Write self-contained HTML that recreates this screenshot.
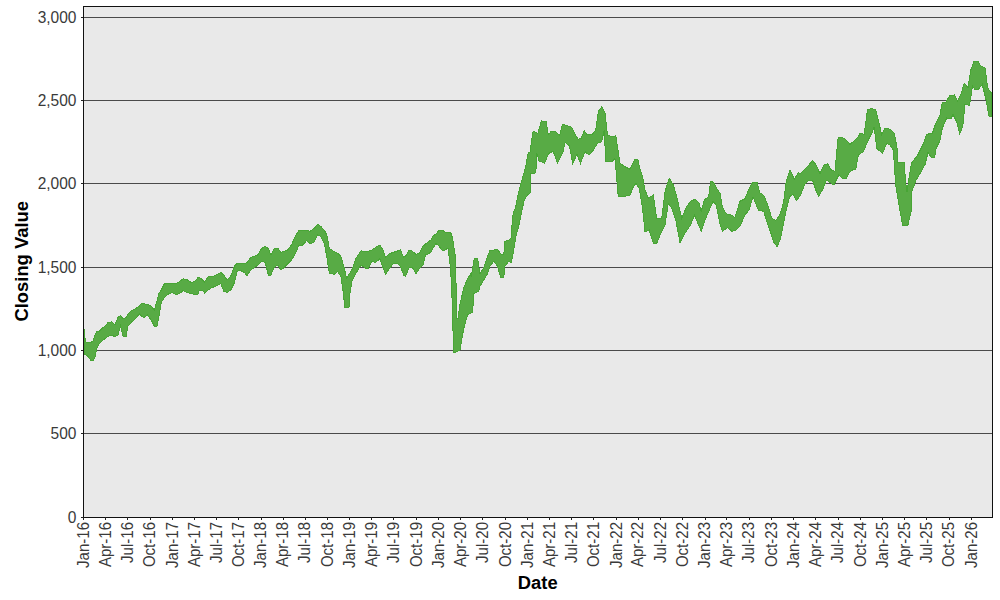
<!DOCTYPE html>
<html><head><meta charset="utf-8"><style>
html,body{margin:0;padding:0;background:#fff;width:1000px;height:600px;overflow:hidden}
svg{display:block}
text{font-family:"Liberation Sans",sans-serif}
</style></head><body>
<svg width="1000" height="600" viewBox="0 0 1000 600">
<rect x="0" y="0" width="1000" height="600" fill="#fff"/>
<rect x="84" y="7" width="908" height="510" fill="#e9e9e9"/>
<line x1="81" y1="517.5" x2="83" y2="517.5" stroke="#222" stroke-width="1"/>
<line x1="83" y1="433.5" x2="992" y2="433.5" stroke="#4a4a4a" stroke-width="1"/>
<line x1="81" y1="433.5" x2="83" y2="433.5" stroke="#222" stroke-width="1"/>
<line x1="83" y1="350.5" x2="992" y2="350.5" stroke="#4a4a4a" stroke-width="1"/>
<line x1="81" y1="350.5" x2="83" y2="350.5" stroke="#222" stroke-width="1"/>
<line x1="83" y1="267.5" x2="992" y2="267.5" stroke="#4a4a4a" stroke-width="1"/>
<line x1="81" y1="267.5" x2="83" y2="267.5" stroke="#222" stroke-width="1"/>
<line x1="83" y1="183.5" x2="992" y2="183.5" stroke="#4a4a4a" stroke-width="1"/>
<line x1="81" y1="183.5" x2="83" y2="183.5" stroke="#222" stroke-width="1"/>
<line x1="83" y1="100.5" x2="992" y2="100.5" stroke="#4a4a4a" stroke-width="1"/>
<line x1="81" y1="100.5" x2="83" y2="100.5" stroke="#222" stroke-width="1"/>
<line x1="83" y1="17.5" x2="992" y2="17.5" stroke="#4a4a4a" stroke-width="1"/>
<line x1="81" y1="17.5" x2="83" y2="17.5" stroke="#222" stroke-width="1"/>

<polygon points="84.00,328.75 85.50,341.90 88.00,342.50 90.50,342.50 93.00,341.25 95.00,335.00 96.75,331.90 99.25,331.25 101.75,328.75 104.90,326.25 108.00,322.50 111.75,321.90 114.90,325.00 118.00,317.50 120.50,315.60 123.00,318.75 126.10,317.50 128.00,313.75 131.75,310.60 135.50,308.75 139.25,306.25 141.75,303.10 143.75,303.75 147.50,304.40 151.25,306.25 154.40,310.00 156.90,301.25 158.75,293.75 161.25,290.00 164.40,283.75 168.75,283.10 172.50,283.75 176.25,283.75 180.00,281.25 183.10,278.75 187.50,280.00 191.25,282.50 195.00,281.25 198.10,277.50 199.50,277.50 202.60,280.00 204.50,281.90 208.25,276.90 212.00,276.90 215.75,275.00 220.75,272.50 223.90,275.00 227.00,280.00 230.75,276.25 234.50,266.25 237.00,263.10 240.75,263.10 244.50,263.75 247.00,262.50 250.75,257.50 254.50,256.25 257.75,255.00 261.50,248.75 265.25,246.25 268.40,248.75 270.90,255.00 274.00,248.75 277.75,248.10 280.90,252.50 284.00,251.25 287.75,250.00 291.50,245.00 295.25,236.25 299.00,230.60 302.75,230.00 306.50,230.60 310.25,231.25 314.30,228.30 317.70,224.20 321.00,226.70 324.30,230.00 326.80,235.00 329.30,248.30 334.30,251.70 337.70,253.30 341.00,256.70 344.30,268.30 346.50,278.30 348.50,275.00 351.80,270.00 356.00,258.30 361.00,250.80 366.00,251.70 368.60,251.25 371.75,250.00 375.50,247.50 379.90,245.00 383.00,250.00 385.50,257.50 389.25,253.75 393.00,252.50 396.75,251.25 400.50,250.00 403.60,257.50 405.50,256.25 409.25,250.00 412.40,251.25 416.10,254.40 419.25,253.10 423.00,246.25 426.75,243.00 431.00,240.00 433.00,236.00 436.00,234.00 439.00,230.50 442.00,230.00 445.00,232.00 448.00,232.00 450.50,232.00 452.50,238.00 454.00,248.00 455.80,258.00 456.30,318.00 458.60,318.00 459.20,307.50 463.75,288.00 467.00,280.00 470.50,274.00 471.25,277.00 474.40,258.10 477.50,258.10 480.00,273.75 483.75,267.50 487.50,256.25 490.00,250.60 493.75,250.00 497.50,249.40 500.60,253.75 503.75,255.00 505.00,241.25 508.75,240.00 511.25,237.50 512.50,216.70 513.75,212.00 515.80,206.70 518.30,193.30 521.70,180.80 524.20,172.00 525.80,166.70 527.50,155.80 528.25,153.30 530.00,152.00 533.10,131.10 538.00,133.30 541.25,120.80 546.10,121.90 548.30,134.90 551.50,131.10 555.30,131.10 559.70,135.50 562.40,124.10 567.25,125.70 571.60,127.30 574.80,133.80 578.10,139.30 581.30,138.20 584.20,130.80 587.50,135.00 592.50,134.20 595.80,130.00 598.30,111.70 601.70,106.70 605.00,113.30 607.50,135.00 611.70,136.70 615.80,135.80 620.00,163.30 625.00,166.70 630.00,169.20 635.00,159.20 638.30,160.00 639.20,166.70 642.50,176.70 645.00,190.00 648.30,198.30 653.30,195.00 656.70,218.30 661.70,218.30 665.00,191.70 669.20,178.30 673.30,185.00 676.70,196.70 681.70,218.30 686.70,206.70 690.60,201.25 695.00,199.40 698.75,202.50 701.25,211.25 704.40,200.00 708.75,196.25 710.60,181.25 713.75,182.50 716.90,188.75 720.00,193.10 722.50,207.50 726.25,213.75 731.25,215.00 735.00,217.50 740.00,201.25 745.00,198.75 749.00,188.70 753.00,182.00 757.00,182.00 759.70,192.70 763.70,195.30 767.70,204.70 771.70,218.00 775.70,220.70 779.70,215.30 783.70,202.00 786.30,180.70 790.00,170.00 794.30,179.30 798.30,172.70 800.60,173.75 805.00,168.75 808.75,165.00 812.50,160.60 816.25,165.00 820.00,173.75 823.75,165.00 827.50,163.75 831.25,170.00 835.00,171.25 838.10,137.50 842.50,137.50 846.25,140.00 850.00,144.40 855.00,140.00 858.75,136.25 860.00,133.30 864.20,134.20 867.50,110.00 871.70,108.30 875.80,110.00 878.30,120.00 881.70,135.00 885.00,128.30 890.00,129.20 894.20,133.30 897.50,150.00 898.00,162.70 904.20,162.70 905.60,182.60 907.00,192.00 909.00,178.00 911.50,163.00 917.50,155.50 923.50,143.50 926.50,134.50 932.50,133.00 935.50,124.00 940.00,115.00 942.20,103.00 946.00,102.20 949.70,95.50 954.50,95.00 957.50,101.00 961.25,93.50 964.25,83.00 968.00,87.50 971.00,69.50 974.00,61.25 977.75,61.25 980.75,65.75 985.25,68.00 987.50,87.50 990.50,92.00 991.50,92.00 991.50,116.00 989.00,116.00 986.00,99.50 982.25,84.50 978.50,89.00 974.75,89.00 972.50,86.00 969.50,105.50 965.00,104.00 962.75,126.50 959.75,134.00 956.75,122.00 953.00,114.50 950.75,119.00 946.70,118.00 942.20,128.50 940.00,140.50 936.20,148.00 934.75,157.00 931.00,157.00 928.00,152.50 925.00,164.50 919.70,174.00 916.20,179.70 911.50,192.50 911.20,211.00 907.70,225.80 902.70,225.80 899.00,205.00 895.70,185.00 893.30,150.00 890.00,145.00 886.70,143.30 882.50,153.30 876.70,148.30 874.20,126.70 872.50,131.70 868.30,140.00 863.30,151.70 858.30,155.00 855.80,169.00 852.50,170.00 849.40,172.50 846.25,178.75 843.10,178.75 838.75,175.00 833.75,185.00 830.00,182.50 826.25,180.00 823.10,188.75 818.75,196.25 816.25,191.25 812.50,180.00 808.75,180.00 805.00,183.75 800.60,195.00 796.30,200.70 793.00,194.00 789.70,196.70 786.30,210.00 783.00,226.00 780.30,239.30 777.00,246.70 773.70,242.00 770.30,231.30 767.00,222.00 763.70,211.30 758.30,210.00 755.70,203.30 753.00,196.70 749.00,210.00 745.70,214.00 743.75,217.50 740.00,226.25 736.25,230.00 731.90,231.25 727.50,227.50 722.50,231.25 720.00,223.75 716.25,205.00 713.10,201.25 708.75,211.25 705.00,220.00 701.25,231.25 697.50,222.50 694.40,215.00 690.60,225.00 688.30,228.30 685.00,233.30 680.00,242.50 675.80,220.00 671.70,208.30 668.30,203.30 665.00,225.00 660.80,233.30 656.70,243.30 653.30,243.30 649.20,230.00 645.00,231.70 642.50,208.30 639.20,188.30 635.80,183.30 633.30,186.70 630.00,195.00 623.30,196.70 618.30,196.70 615.00,158.30 611.70,161.70 605.80,161.70 604.20,130.00 601.70,141.70 597.50,143.30 593.30,150.00 589.20,155.00 585.00,151.70 580.50,163.20 577.00,154.40 572.70,163.10 569.40,145.80 565.10,142.50 562.90,152.30 557.50,163.10 553.20,151.20 548.80,153.30 544.50,163.10 539.10,160.90 536.90,153.30 535.80,172.80 530.40,173.90 530.00,193.30 527.50,195.00 524.20,200.00 521.70,211.70 518.30,228.00 516.25,235.00 513.75,250.00 511.25,262.50 508.75,261.25 505.00,266.25 503.75,277.50 500.60,277.50 497.50,266.25 493.75,261.25 490.00,266.25 487.50,273.75 483.75,280.00 480.00,286.25 478.75,291.00 473.50,294.00 472.75,312.00 467.50,315.00 463.75,328.50 462.00,338.00 460.00,350.00 454.00,353.00 453.20,337.50 452.50,310.00 451.50,285.00 450.50,268.00 448.00,248.00 445.00,250.00 442.00,250.00 439.00,246.00 436.00,243.50 433.00,248.00 431.00,252.00 428.00,254.00 425.50,255.00 423.00,265.00 419.25,268.75 416.10,273.75 412.40,267.50 409.25,267.50 405.50,276.25 403.60,275.00 400.50,266.25 396.75,263.10 393.00,263.75 389.25,268.75 385.50,274.40 383.00,267.50 379.90,258.75 375.50,262.50 371.75,261.25 368.60,268.10 366.00,268.30 361.00,265.00 356.00,273.30 351.80,281.70 350.00,293.00 349.00,307.50 344.50,307.50 343.80,296.00 341.00,276.70 337.70,271.70 334.30,274.20 329.30,273.30 326.80,256.70 324.30,243.30 321.00,236.70 317.70,235.00 314.30,241.70 310.25,243.75 306.50,240.60 302.75,245.00 299.00,245.00 295.25,253.75 291.50,260.00 287.75,263.75 284.00,267.50 280.90,270.00 277.75,265.00 274.00,267.50 270.90,275.00 268.40,275.00 265.25,262.50 261.50,261.25 257.75,265.00 254.50,267.50 250.75,270.00 247.00,275.60 244.50,272.50 240.75,270.60 237.00,271.25 234.50,282.50 230.75,290.00 227.00,292.50 223.90,291.25 220.75,283.75 215.75,286.25 212.00,287.50 208.25,290.00 204.50,293.10 202.60,290.00 199.50,290.00 197.60,295.00 195.00,294.40 191.25,293.75 187.50,292.50 183.10,290.60 180.00,293.10 176.25,295.00 172.50,292.50 168.75,293.75 164.40,297.50 161.25,302.50 158.75,317.50 156.90,326.90 154.40,326.25 151.25,320.00 147.50,315.00 143.75,317.50 141.75,316.25 139.25,313.75 135.50,318.75 131.75,321.90 128.00,326.25 126.10,336.25 123.00,336.25 120.50,326.25 118.00,335.00 114.90,336.90 111.75,335.00 108.00,336.25 104.90,338.75 101.75,341.25 99.25,343.75 96.75,348.75 95.00,357.50 93.00,360.60 90.50,360.00 88.00,356.25 84.00,353.75" fill="#58ab45" stroke="#48a535" stroke-width="1" shape-rendering="crispEdges"/>
<rect x="83.5" y="6.5" width="909" height="511" fill="none" stroke="#111" stroke-width="1"/>
<line x1="83.5" y1="517" x2="83.5" y2="520" stroke="#222" stroke-width="1"/>
<line x1="105.5" y1="517" x2="105.5" y2="520" stroke="#222" stroke-width="1"/>
<line x1="127.5" y1="517" x2="127.5" y2="520" stroke="#222" stroke-width="1"/>
<line x1="150.5" y1="517" x2="150.5" y2="520" stroke="#222" stroke-width="1"/>
<line x1="172.5" y1="517" x2="172.5" y2="520" stroke="#222" stroke-width="1"/>
<line x1="194.5" y1="517" x2="194.5" y2="520" stroke="#222" stroke-width="1"/>
<line x1="216.5" y1="517" x2="216.5" y2="520" stroke="#222" stroke-width="1"/>
<line x1="238.5" y1="517" x2="238.5" y2="520" stroke="#222" stroke-width="1"/>
<line x1="261.5" y1="517" x2="261.5" y2="520" stroke="#222" stroke-width="1"/>
<line x1="283.5" y1="517" x2="283.5" y2="520" stroke="#222" stroke-width="1"/>
<line x1="305.5" y1="517" x2="305.5" y2="520" stroke="#222" stroke-width="1"/>
<line x1="327.5" y1="517" x2="327.5" y2="520" stroke="#222" stroke-width="1"/>
<line x1="349.5" y1="517" x2="349.5" y2="520" stroke="#222" stroke-width="1"/>
<line x1="371.5" y1="517" x2="371.5" y2="520" stroke="#222" stroke-width="1"/>
<line x1="393.5" y1="517" x2="393.5" y2="520" stroke="#222" stroke-width="1"/>
<line x1="416.5" y1="517" x2="416.5" y2="520" stroke="#222" stroke-width="1"/>
<line x1="438.5" y1="517" x2="438.5" y2="520" stroke="#222" stroke-width="1"/>
<line x1="460.5" y1="517" x2="460.5" y2="520" stroke="#222" stroke-width="1"/>
<line x1="482.5" y1="517" x2="482.5" y2="520" stroke="#222" stroke-width="1"/>
<line x1="505.5" y1="517" x2="505.5" y2="520" stroke="#222" stroke-width="1"/>
<line x1="527.5" y1="517" x2="527.5" y2="520" stroke="#222" stroke-width="1"/>
<line x1="549.5" y1="517" x2="549.5" y2="520" stroke="#222" stroke-width="1"/>
<line x1="571.5" y1="517" x2="571.5" y2="520" stroke="#222" stroke-width="1"/>
<line x1="593.5" y1="517" x2="593.5" y2="520" stroke="#222" stroke-width="1"/>
<line x1="616.5" y1="517" x2="616.5" y2="520" stroke="#222" stroke-width="1"/>
<line x1="638.5" y1="517" x2="638.5" y2="520" stroke="#222" stroke-width="1"/>
<line x1="660.5" y1="517" x2="660.5" y2="520" stroke="#222" stroke-width="1"/>
<line x1="682.5" y1="517" x2="682.5" y2="520" stroke="#222" stroke-width="1"/>
<line x1="705.5" y1="517" x2="705.5" y2="520" stroke="#222" stroke-width="1"/>
<line x1="726.5" y1="517" x2="726.5" y2="520" stroke="#222" stroke-width="1"/>
<line x1="749.5" y1="517" x2="749.5" y2="520" stroke="#222" stroke-width="1"/>
<line x1="771.5" y1="517" x2="771.5" y2="520" stroke="#222" stroke-width="1"/>
<line x1="793.5" y1="517" x2="793.5" y2="520" stroke="#222" stroke-width="1"/>
<line x1="815.5" y1="517" x2="815.5" y2="520" stroke="#222" stroke-width="1"/>
<line x1="838.5" y1="517" x2="838.5" y2="520" stroke="#222" stroke-width="1"/>
<line x1="860.5" y1="517" x2="860.5" y2="520" stroke="#222" stroke-width="1"/>
<line x1="882.5" y1="517" x2="882.5" y2="520" stroke="#222" stroke-width="1"/>
<line x1="904.5" y1="517" x2="904.5" y2="520" stroke="#222" stroke-width="1"/>
<line x1="926.5" y1="517" x2="926.5" y2="520" stroke="#222" stroke-width="1"/>
<line x1="949.5" y1="517" x2="949.5" y2="520" stroke="#222" stroke-width="1"/>
<line x1="971.5" y1="517" x2="971.5" y2="520" stroke="#222" stroke-width="1"/>

<g font-size="16" fill="#3a3a3a">
<text transform="translate(76.5,522.6) scale(0.97,1)" text-anchor="end">0</text>
<text transform="translate(76.5,439.3) scale(0.97,1)" text-anchor="end">500</text>
<text transform="translate(76.5,355.9) scale(0.97,1)" text-anchor="end">1,000</text>
<text transform="translate(76.5,272.6) scale(0.97,1)" text-anchor="end">1,500</text>
<text transform="translate(76.5,189.3) scale(0.97,1)" text-anchor="end">2,000</text>
<text transform="translate(76.5,105.9) scale(0.97,1)" text-anchor="end">2,500</text>
<text transform="translate(76.5,22.6) scale(0.97,1)" text-anchor="end">3,000</text>

<text transform="translate(88.7,522) rotate(-90) scale(0.94,1)" text-anchor="end">Jan-16</text>
<text transform="translate(110.8,522) rotate(-90) scale(0.94,1)" text-anchor="end">Apr-16</text>
<text transform="translate(132.9,522) rotate(-90) scale(0.94,1)" text-anchor="end">Jul-16</text>
<text transform="translate(155.3,522) rotate(-90) scale(0.94,1)" text-anchor="end">Oct-16</text>
<text transform="translate(177.7,522) rotate(-90) scale(0.94,1)" text-anchor="end">Jan-17</text>
<text transform="translate(199.5,522) rotate(-90) scale(0.94,1)" text-anchor="end">Apr-17</text>
<text transform="translate(221.7,522) rotate(-90) scale(0.94,1)" text-anchor="end">Jul-17</text>
<text transform="translate(244.0,522) rotate(-90) scale(0.94,1)" text-anchor="end">Oct-17</text>
<text transform="translate(266.4,522) rotate(-90) scale(0.94,1)" text-anchor="end">Jan-18</text>
<text transform="translate(288.3,522) rotate(-90) scale(0.94,1)" text-anchor="end">Apr-18</text>
<text transform="translate(310.4,522) rotate(-90) scale(0.94,1)" text-anchor="end">Jul-18</text>
<text transform="translate(332.8,522) rotate(-90) scale(0.94,1)" text-anchor="end">Oct-18</text>
<text transform="translate(355.1,522) rotate(-90) scale(0.94,1)" text-anchor="end">Jan-19</text>
<text transform="translate(377.0,522) rotate(-90) scale(0.94,1)" text-anchor="end">Apr-19</text>
<text transform="translate(399.1,522) rotate(-90) scale(0.94,1)" text-anchor="end">Jul-19</text>
<text transform="translate(421.5,522) rotate(-90) scale(0.94,1)" text-anchor="end">Oct-19</text>
<text transform="translate(443.9,522) rotate(-90) scale(0.94,1)" text-anchor="end">Jan-20</text>
<text transform="translate(466.0,522) rotate(-90) scale(0.94,1)" text-anchor="end">Apr-20</text>
<text transform="translate(488.1,522) rotate(-90) scale(0.94,1)" text-anchor="end">Jul-20</text>
<text transform="translate(510.5,522) rotate(-90) scale(0.94,1)" text-anchor="end">Oct-20</text>
<text transform="translate(532.8,522) rotate(-90) scale(0.94,1)" text-anchor="end">Jan-21</text>
<text transform="translate(554.7,522) rotate(-90) scale(0.94,1)" text-anchor="end">Apr-21</text>
<text transform="translate(576.8,522) rotate(-90) scale(0.94,1)" text-anchor="end">Jul-21</text>
<text transform="translate(599.2,522) rotate(-90) scale(0.94,1)" text-anchor="end">Oct-21</text>
<text transform="translate(621.5,522) rotate(-90) scale(0.94,1)" text-anchor="end">Jan-22</text>
<text transform="translate(643.4,522) rotate(-90) scale(0.94,1)" text-anchor="end">Apr-22</text>
<text transform="translate(665.5,522) rotate(-90) scale(0.94,1)" text-anchor="end">Jul-22</text>
<text transform="translate(687.9,522) rotate(-90) scale(0.94,1)" text-anchor="end">Oct-22</text>
<text transform="translate(710.3,522) rotate(-90) scale(0.94,1)" text-anchor="end">Jan-23</text>
<text transform="translate(732.2,522) rotate(-90) scale(0.94,1)" text-anchor="end">Apr-23</text>
<text transform="translate(754.3,522) rotate(-90) scale(0.94,1)" text-anchor="end">Jul-23</text>
<text transform="translate(776.6,522) rotate(-90) scale(0.94,1)" text-anchor="end">Oct-23</text>
<text transform="translate(799.0,522) rotate(-90) scale(0.94,1)" text-anchor="end">Jan-24</text>
<text transform="translate(821.1,522) rotate(-90) scale(0.94,1)" text-anchor="end">Apr-24</text>
<text transform="translate(843.2,522) rotate(-90) scale(0.94,1)" text-anchor="end">Jul-24</text>
<text transform="translate(865.6,522) rotate(-90) scale(0.94,1)" text-anchor="end">Oct-24</text>
<text transform="translate(888.0,522) rotate(-90) scale(0.94,1)" text-anchor="end">Jan-25</text>
<text transform="translate(909.9,522) rotate(-90) scale(0.94,1)" text-anchor="end">Apr-25</text>
<text transform="translate(932.0,522) rotate(-90) scale(0.94,1)" text-anchor="end">Jul-25</text>
<text transform="translate(954.3,522) rotate(-90) scale(0.94,1)" text-anchor="end">Oct-25</text>
<text transform="translate(976.7,522) rotate(-90) scale(0.94,1)" text-anchor="end">Jan-26</text>

</g>
<text fill="#000" transform="translate(537.7,588.8) scale(1.02,1)" text-anchor="middle" font-size="18" font-weight="bold">Date</text>
<text fill="#000" transform="translate(28,261.3) rotate(-90) scale(1.022,1)" text-anchor="middle" font-size="18" font-weight="bold">Closing Value</text>
</svg>
</body></html>
